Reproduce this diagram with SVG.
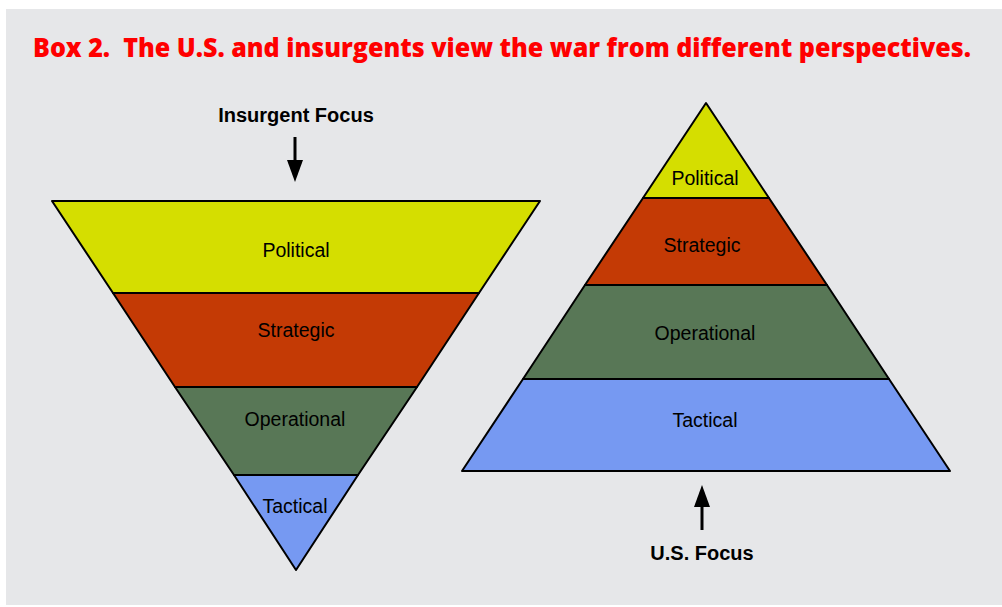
<svg xmlns="http://www.w3.org/2000/svg" width="1002" height="607" viewBox="0 0 1002 607">
<style>
.band{stroke:#000;stroke-width:2;stroke-linejoin:round}
.pol{fill:#d5de00}.str{fill:#c43a05}.ope{fill:#587756}.tac{fill:#7699f2}
.lbl{font-family:"Liberation Sans",Arial,sans-serif;font-size:19.5px;fill:#000;text-anchor:middle}
.focus{font-family:"Liberation Sans",Arial,sans-serif;font-size:20px;font-weight:bold;fill:#000;text-anchor:middle}
.title{font-family:"Open Sans","Liberation Sans",sans-serif;font-size:27px;font-weight:800;fill:#ff0000}
</style>
<rect x="0" y="0" width="1002" height="607" fill="#ffffff"/>
<rect x="6" y="9" width="996" height="596" fill="#e6e7e9"/>
<text class="title" x="33" y="57" textLength="938" lengthAdjust="spacingAndGlyphs">Box 2.&#160; The U.S. and insurgents view the war from different perspectives.</text>
<g id="insurgent-focus"><text class="focus" x="296" y="122">Insurgent Focus</text></g>
<g id="us-focus"><text class="focus" x="702" y="560">U.S. Focus</text></g>
<g id="left-pyramid">
<g id="left-political"><polygon class="band pol" points="52,201 540,201 479,293 113,293"/><text class="lbl" x="296" y="257">Political</text></g>
<g id="left-strategic"><polygon class="band str" points="113,293 479,293 417,387 175,387"/><text class="lbl" x="296" y="337">Strategic</text></g>
<g id="left-operational"><polygon class="band ope" points="175,387 417,387 358,475 234,475"/><text class="lbl" x="295" y="426">Operational</text></g>
<g id="left-tactical"><polygon class="band tac" points="234,475 358,475 296,570"/><text class="lbl" x="295" y="513">Tactical</text></g>
</g>
<g id="right-pyramid">
<g id="right-political"><polygon class="band pol" points="706,103 769,198 643,198"/><text class="lbl" x="705" y="185">Political</text></g>
<g id="right-strategic"><polygon class="band str" points="643,198 769,198 827,285 585,285"/><text class="lbl" x="702" y="252">Strategic</text></g>
<g id="right-operational"><polygon class="band ope" points="585,285 827,285 889,379 523,379"/><text class="lbl" x="705" y="340">Operational</text></g>
<g id="right-tactical"><polygon class="band tac" points="523,379 889,379 950,471 462,471"/><text class="lbl" x="705" y="427">Tactical</text></g>
</g>
<g id="connectors">
<line x1="295" y1="137" x2="295" y2="162" stroke="#000" stroke-width="3"/>
<polygon points="287,160 303,160 295,182" fill="#000"/>
<line x1="702" y1="530" x2="702" y2="505" stroke="#000" stroke-width="3"/>
<polygon points="694,507 710,507 702,485" fill="#000"/>
</g>
</svg>
